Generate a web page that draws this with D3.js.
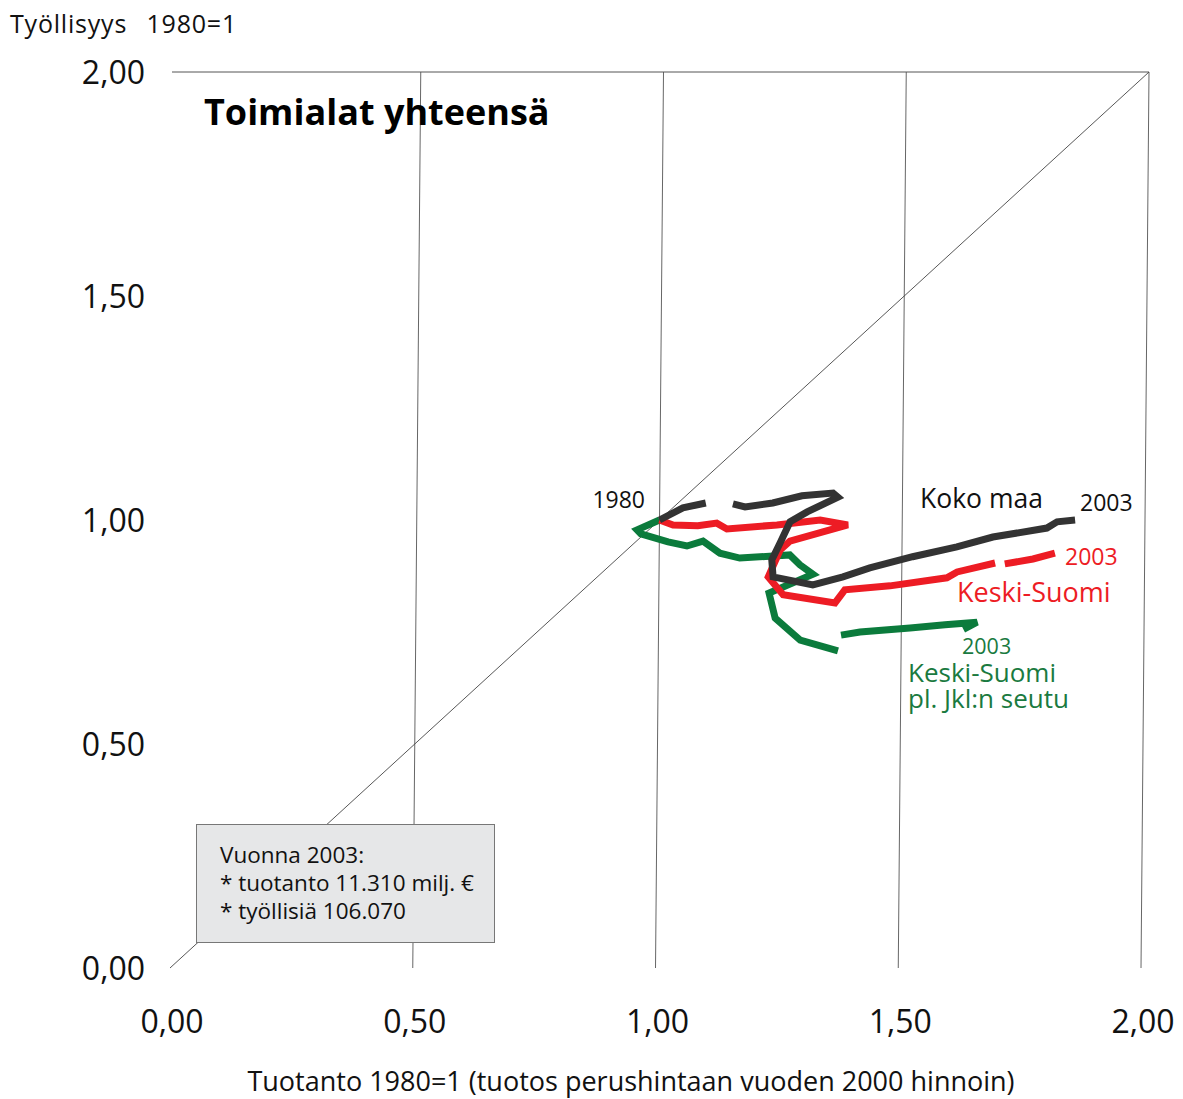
<!DOCTYPE html>
<html><head><meta charset="utf-8">
<script src="https://cdn.jsdelivr.net/npm/d3@7"></script>
<style>
body{margin:0;background:#fff;}
svg{display:block;font-family:"Open Sans","Noto Sans",sans-serif;}
</style></head>
<body><svg id="c" width="1183" height="1099"></svg>
<script>
// ---- data (index 1980 = 1), null = gap in the drawn line ----
const xTicks = [0, 0.5, 1, 1.5, 2];
const yTicks = [0, 0.5, 1, 1.5, 2];
const tickLabels = ["0,00", "0,50", "1,00", "1,50", "2,00"];

const kokoMaaX = [1.00,1.048,1.095,null,1.151,1.176,1.233,1.293,1.357,1.367,1.304,1.269,1.249,1.232,1.235,1.317,1.379,1.434,1.522,1.613,1.687,1.798,1.819,1.856];
const kokoMaaY = [1.00,1.027,1.038,null,1.036,1.029,1.038,1.054,1.060,1.051,1.018,0.996,0.949,0.911,0.873,0.855,0.873,0.893,0.918,0.940,0.962,0.982,0.996,1.000];

const keskiSuomiX = [1.00,1.028,1.079,1.118,1.139,1.242,1.331,1.388,1.269,1.249,1.225,1.256,1.363,1.383,1.476,1.593,1.614,1.692,null,1.712,1.770,1.815];
const keskiSuomiY = [1.00,0.989,0.987,0.993,0.980,0.989,1.000,0.989,0.953,0.933,0.873,0.833,0.815,0.844,0.853,0.871,0.884,0.904,null,0.902,0.913,0.926];

const plJklX = [1.00,0.954,0.962,1.018,1.057,1.090,1.125,1.166,1.269,1.290,1.317,1.227,1.240,1.292,1.370,null,1.376,1.415,1.518,1.590,1.656,1.628];
const plJklY = [1.00,0.978,0.969,0.951,0.942,0.953,0.926,0.915,0.922,0.900,0.879,0.837,0.781,0.732,0.708,null,0.743,0.750,0.759,0.766,0.772,0.756];

const seriesNames = ["Koko maa", "Keski-Suomi", "Keski-Suomi pl. Jkl:n seutu"];
const seriesColors = ["#333333", "#ed1c24", "#0b7b3c"];

// ---- scales ----
const svg = d3.select("#c");
const xs = d3.scaleLinear().domain([0, 2]).range([170, 1141]);
const ys = d3.scaleLinear().domain([0, 2]).range([968, 72]);
const skew = d3.scaleLinear().domain([0, 2]).range([0, 8]);   // slight slant of the original plot
const px = (x, y) => xs(x) + skew(y);

// ---- grid ----
const g = svg.append("g");
xTicks.filter(d => d > 0).forEach(t => {
  g.append("line").attr("x1", px(t, 0)).attr("y1", ys(0)).attr("x2", px(t, 2)).attr("y2", ys(2))
    .attr("stroke", "#555").attr("stroke-width", 0.9);
});
g.append("line").attr("x1", px(0, 2) - 6).attr("y1", ys(2)).attr("x2", px(2, 2)).attr("y2", ys(2))
  .attr("stroke", "#555").attr("stroke-width", 1);
g.append("line").attr("x1", px(0, 0)).attr("y1", ys(0)).attr("x2", px(2, 2)).attr("y2", ys(2))
  .attr("stroke", "#444").attr("stroke-width", 0.9);

// ---- axis labels ----
svg.append("g").selectAll("text").data(yTicks).join("text")
  .attr("x", 145).attr("y", d => ys(d)).attr("dy", "0.36em").attr("text-anchor", "end")
  .attr("font-size", 32).attr("fill", "#111").text((d, i) => tickLabels[i]);
svg.append("g").selectAll("text").data(xTicks).join("text")
  .attr("x", d => xs(d) + 2).attr("y", 1021).attr("dy", "0.36em").attr("text-anchor", "middle")
  .attr("font-size", 32).attr("fill", "#111").text((d, i) => tickLabels[i]);

svg.append("text").attr("x", 10).attr("y", 33).attr("font-size", 25).attr("fill", "#111")
  .attr("word-spacing", 12).attr("letter-spacing", 0.8).text("Työllisyys 1980=1");
svg.append("text").attr("x", 631).attr("y", 1091).attr("text-anchor", "middle").attr("font-size", 27).attr("fill", "#111")
  .text("Tuotanto 1980=1 (tuotos perushintaan vuoden 2000 hinnoin)");
svg.append("text").attr("x", 204).attr("y", 125).attr("font-size", 36).attr("font-weight", "bold").attr("fill", "#000")
  .text("Toimialat yhteensä");

// ---- info box ----
svg.append("rect").attr("x", 196.5).attr("y", 824.5).attr("width", 298).attr("height", 118)
  .attr("fill", "#e6e7e8").attr("stroke", "#777").attr("stroke-width", 1);
const boxLines = ["Vuonna 2003:", "* tuotanto 11.310 milj. €", "* työllisiä 106.070"];
svg.append("g").selectAll("text").data(boxLines).join("text")
  .attr("x", 220).attr("y", (d, i) => 863 + i * 28).attr("font-size", 22.5).attr("fill", "#111").text(d => d);

// ---- series ----
const allX = [kokoMaaX, keskiSuomiX, plJklX];
const allY = [kokoMaaY, keskiSuomiY, plJklY];
const line = d3.line().defined(d => d[0] !== null).x(d => px(d[0], d[1])).y(d => ys(d[1]));
[2, 1, 0].forEach(i => {
  const pts = allX[i].map((x, k) => [x, allY[i][k]]);
  svg.append("path").datum(pts).attr("d", line).attr("fill", "none")
    .attr("stroke", seriesColors[i]).attr("stroke-width", 7).attr("stroke-linejoin", "miter")
    .attr("stroke-miterlimit", 3);
});

// ---- series labels ----
svg.append("text").attr("x", 645).attr("y", 508).attr("text-anchor", "end").attr("font-size", 23).attr("fill", "#111").text("1980");
svg.append("text").attr("x", 920).attr("y", 508).attr("font-size", 26.5).attr("fill", "#111").text(seriesNames[0]);
svg.append("text").attr("x", 1080).attr("y", 511).attr("font-size", 23).attr("fill", "#111").text("2003");
svg.append("text").attr("x", 1065).attr("y", 565).attr("font-size", 23).attr("fill", seriesColors[1]).text("2003");
svg.append("text").attr("x", 957).attr("y", 602).attr("font-size", 27).attr("fill", seriesColors[1]).text(seriesNames[1]);
svg.append("text").attr("x", 962).attr("y", 654).attr("font-size", 21.5).attr("fill", "#1a7a40").text("2003");
svg.append("text").attr("x", 908).attr("y", 682).attr("font-size", 26).attr("fill", "#1a7a40").text("Keski-Suomi");
svg.append("text").attr("x", 908).attr("y", 708).attr("font-size", 26).attr("fill", "#1a7a40").text("pl. Jkl:n seutu");
</script></body></html>
